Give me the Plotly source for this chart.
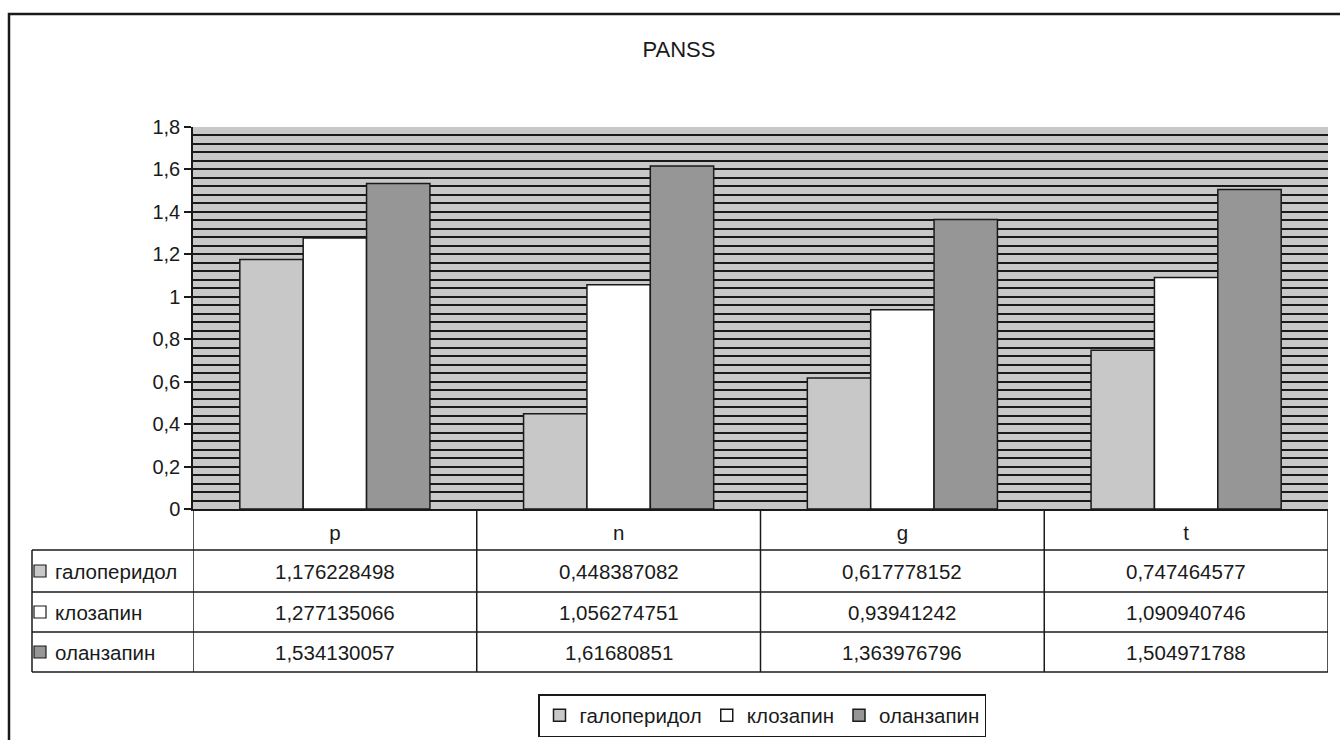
import plotly.graph_objects as go

# PANSS scores by scale and drug
categories = ["p", "n", "g", "t"]
series_names = ["галоперидол", "клозапин", "оланзапин"]
haloperidol = [1.176228498, 0.448387082, 0.617778152, 0.747464577]
clozapine = [1.277135066, 1.056274751, 0.93941242, 1.090940746]
olanzapine = [1.534130057, 1.61680851, 1.363976796, 1.504971788]
series_values = [haloperidol, clozapine, olanzapine]
series_colors = ["#c8c8c8", "#ffffff", "#969696"]

y_ticks = [0, 0.2, 0.4, 0.6, 0.8, 1.0, 1.2, 1.4, 1.6, 1.8]

W, H = 1340, 740
L, R, T, B = 193, 1328, 127, 509          # plot area in pixels
FONT = "Liberation Sans, Arial, sans-serif"
INK = "#1a1a1a"
TXT = 20.5


def px_x(x):
    return (x - L) / (R - L)


def px_y(y):
    return (B - y) / (B - T)


def fmt(v):
    return repr(v).replace(".", ",")


fig = go.Figure()
for name, vals, col in zip(series_names, series_values, series_colors):
    fig.add_trace(go.Bar(
        name=name, x=categories, y=vals,
        marker=dict(color=col, line=dict(color=INK, width=1.5)),
    ))

shapes = []
annotations = []

# data table under the plot
row_lines = [550, 592, 632, 672]
for yl in row_lines:
    shapes.append(dict(type="line", xref="paper", yref="paper",
                       x0=px_x(32), x1=1, y0=px_y(yl), y1=px_y(yl),
                       line=dict(color=INK, width=1.5)))
for k in range(len(categories) + 1):
    shapes.append(dict(type="line", xref="x", yref="paper",
                       x0=k - 0.5, x1=k - 0.5, y0=px_y(B), y1=px_y(672),
                       line=dict(color=INK, width=1.5)))
shapes.append(dict(type="line", xref="paper", yref="paper",
                   x0=px_x(32), x1=px_x(32), y0=px_y(550), y1=px_y(672),
                   line=dict(color=INK, width=1.5)))

row_centers = [571, 612, 652]
for name, vals, col, yc in zip(series_names, series_values, series_colors, row_centers):
    shapes.append(dict(type="rect", xref="paper", yref="paper",
                       x0=px_x(34), x1=px_x(46), y0=px_y(yc - 6), y1=px_y(yc + 6),
                       fillcolor=col, line=dict(color=INK, width=1.2)))
    annotations.append(dict(xref="paper", yref="paper", x=px_x(53), y=px_y(yc),
                            xanchor="left", yanchor="middle", showarrow=False,
                            text=name, font=dict(family=FONT, size=TXT, color=INK)))
    for i, v in enumerate(vals):
        annotations.append(dict(xref="x", yref="paper", x=i, y=px_y(yc),
                                xanchor="center", yanchor="middle", showarrow=False,
                                text=fmt(v), font=dict(family=FONT, size=TXT, color=INK)))

# outer chart frame
shapes.append(dict(type="rect", xref="paper", yref="paper",
                   x0=px_x(9), x1=px_x(1350), y0=px_y(14), y1=px_y(760),
                   line=dict(color=INK, width=2.5), layer="above"))

fig.update_layout(
    width=W, height=H,
    margin=dict(l=L, r=W - R, t=T, b=H - B, pad=0, autoexpand=False),
    paper_bgcolor="white",
    plot_bgcolor="#c8c8c8",
    separators=", ",
    font=dict(family=FONT, size=TXT, color=INK),
    title=dict(text="PANSS", x=px_x(679), xanchor="center", xref="paper",
               y=(H - 49) / H, yanchor="middle",
               font=dict(family=FONT, size=22, color=INK)),
    barmode="group", bargap=0.33, bargroupgap=0,
    showlegend=True,
    legend=dict(orientation="h", x=px_x(762), xanchor="center",
                y=px_y(694), yanchor="top",
                bordercolor=INK, borderwidth=1.5, bgcolor="white",
                font=dict(family=FONT, size=TXT, color=INK),
                itemwidth=30, traceorder="normal"),
    shapes=shapes,
    annotations=annotations,
)

fig.update_xaxes(
    type="category", range=[-0.5, 3.5],
    showgrid=False, zeroline=False,
    showline=True, linecolor=INK, linewidth=1.5,
    ticks="outside", ticklen=5, tickcolor="rgba(0,0,0,0)",
    tickfont=dict(family=FONT, size=TXT, color=INK),
)
fig.update_yaxes(
    range=[0, 1.8], tickvals=y_ticks,
    showgrid=True, gridcolor=INK, gridwidth=2,
    minor=dict(dtick=0.04, tick0=0, showgrid=True, gridcolor=INK, gridwidth=2),
    zeroline=False,
    showline=True, linecolor=INK, linewidth=1.5,
    ticks="outside", ticklen=7, tickcolor=INK, tickwidth=1.5,
    tickfont=dict(family=FONT, size=20, color=INK),
)

fig.write_html("out.html")
